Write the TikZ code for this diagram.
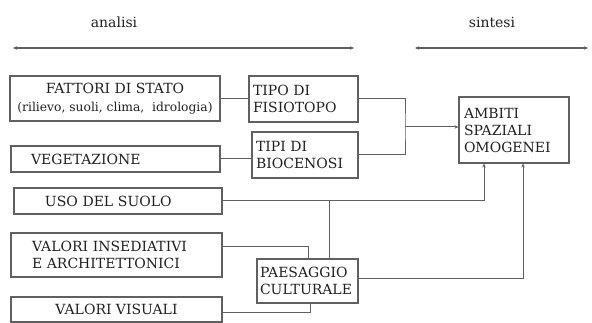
\documentclass[tikz,border=0pt]{standalone}
\usepackage{fontspec}
\setmainfont{DejaVu Serif}
\usetikzlibrary{arrows.meta}
\definecolor{ln}{HTML}{606060}
\definecolor{tx}{HTML}{202020}
\begin{document}
\begin{tikzpicture}[x=1pt,y=-1pt,
  box/.style={draw=ln, line width=1.1pt, rectangle, text=tx, inner sep=0pt,
    font=\fontsize{14}{17}\selectfont},
  conn/.style={draw=ln, line width=1pt},
  arr/.style={conn, -{Stealth[length=4pt,width=3.5pt]}},
  dbl/.style={draw=ln, line width=1.4pt, {Stealth[length=4pt,width=3.5pt]}-{Stealth[length=4pt,width=3.5pt]}},
  lab/.style={text=tx, font=\fontsize{14}{18}\selectfont}]
\useasboundingbox (0,0) rectangle (592,323);
% headings
\node[lab] (an) at (114,22) {analisi};
\node[lab] (si) at (492,22) {sintesi};
\coordinate (anL) at (13,48); \coordinate (anR) at (354,48);
\coordinate (siL) at (415,48); \coordinate (siR) at (588,48);
\draw[dbl] (anL) -- (anR);
\draw[dbl] (siL) -- (siR);
% boxes
\node[box, minimum width=210pt, minimum height=45pt, align=center] (fat) at (115,98.5)
  {FATTORI DI STATO\\[1pt]{\fontsize{12.3}{17}\selectfont(rilievo, suoli, clima,\ \ idrologia)}};
\node[box, minimum width=109pt, minimum height=46pt, text width=101pt, align=left] (fis) at (303.5,99)
  {TIPO DI\\FISIOTOPO};
\node[box, minimum width=209pt, minimum height=26pt, text width=169pt, align=left] (veg) at (115.5,159)
  {VEGETAZIONE};
\node[box, minimum width=106pt, minimum height=46pt, text width=98pt, align=left] (bio) at (305,155)
  {TIPI DI\\BIOCENOSI};
\node[box, minimum width=110pt, minimum height=66pt, text width=100pt, align=left] (amb) at (514,130)
  {AMBITI\\SPAZIALI\\OMOGENEI};
\node[box, minimum width=208pt, minimum height=26pt, text width=146pt, align=left] (uso) at (118,201)
  {USO DEL SUOLO};
\node[box, minimum width=211pt, minimum height=44pt, text width=169pt, align=left] (ins) at (116.5,255)
  {VALORI INSEDIATIVI\\E ARCHITETTONICI};
\node[box, minimum width=101pt, minimum height=44pt, text width=95pt, align=left] (pae) at (307.5,281)
  {PAESAGGIO\\CULTURALE};
\node[box, minimum width=211pt, minimum height=25pt, align=center] (vis) at (116.5,309.5)
  {VALORI VISUALI};
% connectors
\draw[conn] (fat.east) -- (fat.east -| fis.west);
\draw[conn] (veg.east) -- (veg.east -| bio.west);
\coordinate (j1) at (405,127);
\draw[conn] (fis.east) -| (j1) |- (bio.east);
\draw[arr] (j1) -- (j1 -| amb.west);
\coordinate (j2) at (484,201);
\draw[arr] (uso.east) -- (j2) -- (j2 |- amb.south);
\coordinate (j3) at (329,201);
\draw[conn] (j3) -- (j3 |- pae.north);
\coordinate (j4) at (308,247);
\draw[conn] (ins.east |- j4) -- (j4) -- (j4 |- pae.north);
\coordinate (j5) at (523,279);
\draw[arr] (pae.east |- j5) -- (j5) -- (j5 |- amb.south);
\coordinate (j6) at (310,312);
\draw[conn] (vis.east |- j6) -- (j6) -- (j6 |- pae.south);
\end{tikzpicture}
\end{document}
